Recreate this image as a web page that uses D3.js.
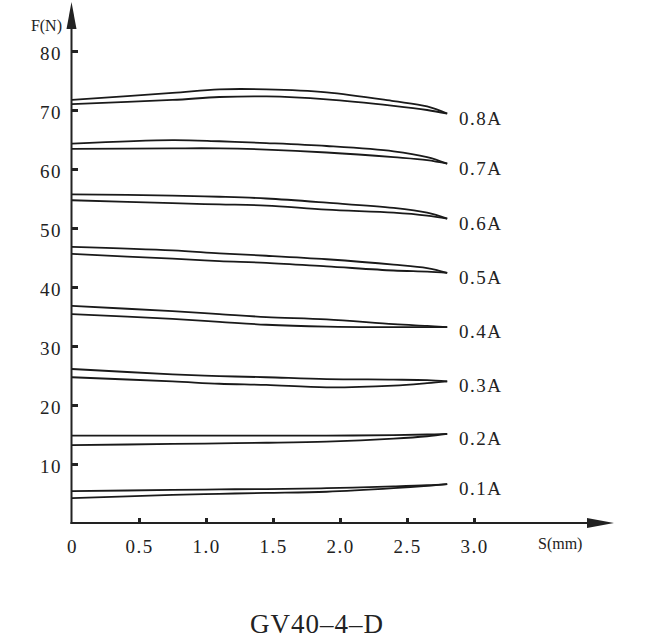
<!DOCTYPE html>
<head>
    <title>GV40-4-D</title>
    <script src="https://cdnjs.cloudflare.com/ajax/libs/d3/7.8.5/d3.min.js"></script>
    <style>
        body { margin: 0; background: #fff; }
        text { font-family: "Liberation Serif", "Times New Roman", serif; fill: #222; }
    </style>
</head>
<body>
    <div id="chart"></div>
    <script type="text/javascript">
        // stroke positions (mm) where the curves were read
        const sValues = [0, 0.75, 1.1, 1.45, 1.9, 2.4, 2.65, 2.8];
        const currents = ["0.8A", "0.7A", "0.6A", "0.5A", "0.4A", "0.3A", "0.2A", "0.1A"];
        // upper and lower branch of each hysteresis loop, force in N
        const upper = [
            [71.7, 72.9, 73.5, 73.5, 73.0, 71.5, 70.6, 69.4],
            [64.3, 64.9, 64.7, 64.4, 63.9, 63.0, 62.0, 60.9],
            [55.7, 55.5, 55.3, 55.0, 54.3, 53.4, 52.6, 51.6],
            [46.8, 46.2, 45.7, 45.3, 44.7, 43.8, 43.2, 42.4],
            [36.8, 35.9, 35.4, 34.9, 34.5, 33.7, 33.4, 33.2],
            [26.1, 25.2, 24.9, 24.7, 24.4, 24.3, 24.2, 24.0],
            [14.8, 14.8, 14.8, 14.8, 14.8, 14.9, 15.0, 15.1],
            [5.4, 5.6, 5.7, 5.75, 5.9, 6.2, 6.4, 6.6]
        ];
        const lower = [
            [71.0, 71.7, 72.2, 72.3, 71.8, 70.7, 70.0, 69.4],
            [63.4, 63.5, 63.5, 63.3, 62.8, 62.0, 61.5, 60.9],
            [54.7, 54.2, 54.0, 53.8, 53.1, 52.6, 52.1, 51.6],
            [45.6, 44.8, 44.4, 44.1, 43.5, 42.8, 42.6, 42.4],
            [35.4, 34.6, 34.1, 33.6, 33.3, 33.2, 33.2, 33.2],
            [24.7, 24.0, 23.6, 23.4, 23.0, 23.3, 23.7, 24.0],
            [13.2, 13.4, 13.5, 13.6, 13.8, 14.3, 14.7, 15.1],
            [4.2, 4.75, 4.95, 5.1, 5.3, 5.9, 6.3, 6.6]
        ];
        const xTicks = [0, 0.5, 1.0, 1.5, 2.0, 2.5, 3.0];
        const yTicks = [10, 20, 30, 40, 50, 60, 70, 80];

        const width = 672;
        const height = 641;

        const svg = d3.select("#chart")
            .append("svg")
            .attr("width", width)
            .attr("height", height);

        const xScale = d3.scaleLinear().domain([0, 3]).range([72, 474]);
        const yScale = d3.scaleLinear().domain([0, 80]).range([523, 51]);

        // axis lines with arrow heads
        svg.append("line")
            .attr("x1", 71.5).attr("y1", 524)
            .attr("x2", 71.5).attr("y2", 20)
            .attr("stroke", "#222").attr("stroke-width", 2);
        svg.append("path")
            .attr("d", "M71.5,2 L66.5,29 L76.5,29 Z")
            .attr("fill", "#222");
        svg.append("line")
            .attr("x1", 70.5).attr("y1", 523)
            .attr("x2", 595).attr("y2", 523)
            .attr("stroke", "#222").attr("stroke-width", 2);
        svg.append("path")
            .attr("d", "M614,523 L587,518 L587,528 Z")
            .attr("fill", "#222");

        // Y Axis
        const yAxis = d3.axisLeft(yScale)
            .tickValues(yTicks)
            .tickSize(-6)
            .tickSizeOuter(0)
            .tickPadding(10);
        const gy = svg.append("g")
            .attr("transform", "translate(72,0)")
            .call(yAxis)
            .attr("font-family", null);
        gy.select(".domain").remove();
        gy.selectAll(".tick line").attr("stroke", "#222").attr("stroke-width", 3);
        gy.selectAll(".tick text")
            .attr("font-size", 19)
            .attr("letter-spacing", 1.5)
            .attr("dy", "0.45em")
            .attr("fill", "#222");

        // X Axis
        const xAxis = d3.axisBottom(xScale)
            .tickValues(xTicks)
            .tickSize(-5)
            .tickSizeOuter(0)
            .tickPadding(17)
            .tickFormat(d => d === 0 ? "0" : d3.format(".1f")(d));
        const gx = svg.append("g")
            .attr("transform", "translate(0,523)")
            .call(xAxis)
            .attr("font-family", null);
        gx.select(".domain").remove();
        gx.selectAll(".tick line").attr("stroke", "#222").attr("stroke-width", 3)
            .filter(d => d === 0).remove();
        gx.selectAll(".tick text")
            .attr("font-size", 19)
            .attr("letter-spacing", 1.5)
            .attr("fill", "#222");

        // axis titles
        svg.append("text")
            .attr("x", 62).attr("y", 31)
            .attr("text-anchor", "end")
            .attr("font-size", 16)
            .text("F(N)");
        svg.append("text")
            .attr("x", 538).attr("y", 549)
            .attr("font-size", 16)
            .text("S(mm)");

        // curves
        const line = d3.line()
            .x((d, i) => xScale(sValues[i]))
            .y(d => yScale(d))
            .curve(d3.curveCatmullRom.alpha(0.5));

        const curves = svg.append("g").attr("class", "curves");
        currents.forEach(function(c, k) {
            curves.append("path")
                .attr("d", line(upper[k]))
                .attr("fill", "none")
                .attr("stroke", "#1a1a1a")
                .attr("stroke-width", 1.8);
            curves.append("path")
                .attr("d", line(lower[k]))
                .attr("fill", "none")
                .attr("stroke", "#1a1a1a")
                .attr("stroke-width", 1.8);
            const last = upper[k][upper[k].length - 1];
            curves.append("text")
                .attr("x", 459)
                .attr("y", yScale(last) + 11)
                .attr("font-size", 19)
                .attr("letter-spacing", 1.5)
                .text(c);
        });

        // model name
        svg.append("text")
            .attr("x", 317).attr("y", 633)
            .attr("text-anchor", "middle")
            .attr("font-size", 27)
            .attr("letter-spacing", 1)
            .text("GV40\u20134\u2013D");
    </script>
</body>
